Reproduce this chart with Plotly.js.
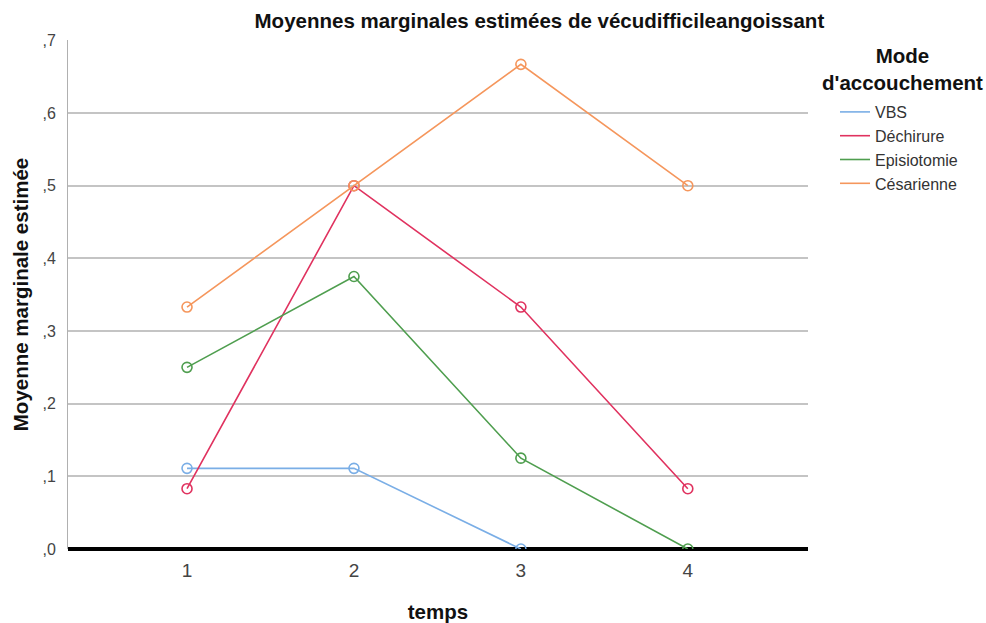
<!DOCTYPE html>
<html>
<head>
<meta charset="utf-8">
<script src="https://cdn.plot.ly/plotly-3.0.1.min.js"></script>
<style>html,body{margin:0;padding:0;background:#fff;}#chart{width:986px;height:623px;}</style>
</head>
<body>
<div id="chart"></div>
<script>
const temps = [1, 2, 3, 4];
const seriesNames = ["VBS", "Déchirure", "Episiotomie", "Césarienne"];
const vbs = [0.111, 0.111, 0.0, null];
const dechirure = [0.083, 0.5, 0.333, 0.083];
const episiotomie = [0.25, 0.375, 0.125, 0.0];
const cesarienne = [0.333, 0.5, 0.667, 0.5];
const yTickVals = [0, 0.1, 0.2, 0.3, 0.4, 0.5, 0.6, 0.7];
const yTickText = [",0", ",1", ",2", ",3", ",4", ",5", ",6", ",7"];
const xTickText = ["1", "2", "3", "4"];
const legendTitle = "Mode<br>d'accouchement";

const colors = ["#7aaee6", "#e0325f", "#4f9e4f", "#f5965c"];
const seriesValues = [vbs, dechirure, episiotomie, cesarienne];
const FONT = "Liberation Sans, Arial, sans-serif";

const traces = [];
seriesValues.forEach((vals, i) => {
  traces.push({
    x: temps, y: vals, type: "scatter", mode: "lines+markers",
    name: seriesNames[i], showlegend: false, connectgaps: false,
    line: {color: colors[i], width: 1.6},
    marker: {symbol: "circle-open", size: 10, color: colors[i], line: {width: 1.6, color: colors[i]}}
  });
});
seriesValues.forEach((vals, i) => {
  traces.push({
    x: [null], y: [null], type: "scatter", mode: "lines",
    name: seriesNames[i], showlegend: true,
    line: {color: colors[i], width: 1.6}
  });
});

const layout = {
  width: 986, height: 623,
  margin: {l: 68, r: 178, t: 40, b: 74},
  paper_bgcolor: "#fff", plot_bgcolor: "#fff",
  font: {family: FONT, color: "#333"},
  title: {
    text: "<b>Moyennes marginales estimées de vécudifficileangoissant</b>",
    font: {family: FONT, size: 20.5, color: "#111"},
    xref: "paper", x: 0.637, xanchor: "center",
    yref: "container", y: 0.967, yanchor: "middle"
  },
  xaxis: {
    range: [0.287, 4.72],
    tickvals: temps, ticktext: xTickText,
    showgrid: false, zeroline: false, showline: false,
    ticks: "", ticklabelstandoff: 8,
    tickfont: {family: FONT, size: 19, color: "#444"},
    title: {text: "<b>temps</b>", font: {family: FONT, size: 20.5, color: "#111"}, standoff: 24}
  },
  yaxis: {
    range: [0, 0.7005],
    tickvals: yTickVals, ticktext: yTickText,
    showgrid: true, gridcolor: "#c4c4c4", gridwidth: 2,
    zeroline: true, zerolinecolor: "#000", zerolinewidth: 3.5,
    showline: true, linecolor: "#b0b0b0", linewidth: 1,
    ticks: "", ticklabelstandoff: 8,
    tickfont: {family: FONT, size: 16, color: "#444"},
    title: {text: "<b>Moyenne marginale estimée</b>", font: {family: FONT, size: 20.5, color: "#111"}, standoff: 8}
  },
  legend: {
    x: (835 - 68) / 740, xref: "paper", xanchor: "left",
    y: 1 - (95 - 40) / 509, yref: "paper", yanchor: "top",
    font: {family: FONT, size: 16, color: "#333"},
    tracegroupgap: 0, itemwidth: 30,
    bgcolor: "rgba(0,0,0,0)"
  },
  annotations: [{
    text: "<b>" + legendTitle + "</b>",
    xref: "paper", x: (902 - 68) / 740, xanchor: "center",
    yref: "paper", y: 1 - (69 - 40) / 509, yanchor: "middle",
    showarrow: false, align: "center",
    font: {family: FONT, size: 20.5, color: "#111"}
  }],
  showlegend: true
};

Plotly.newPlot("chart", traces, layout, {displayModeBar: false, staticPlot: true});
</script>
</body>
</html>
